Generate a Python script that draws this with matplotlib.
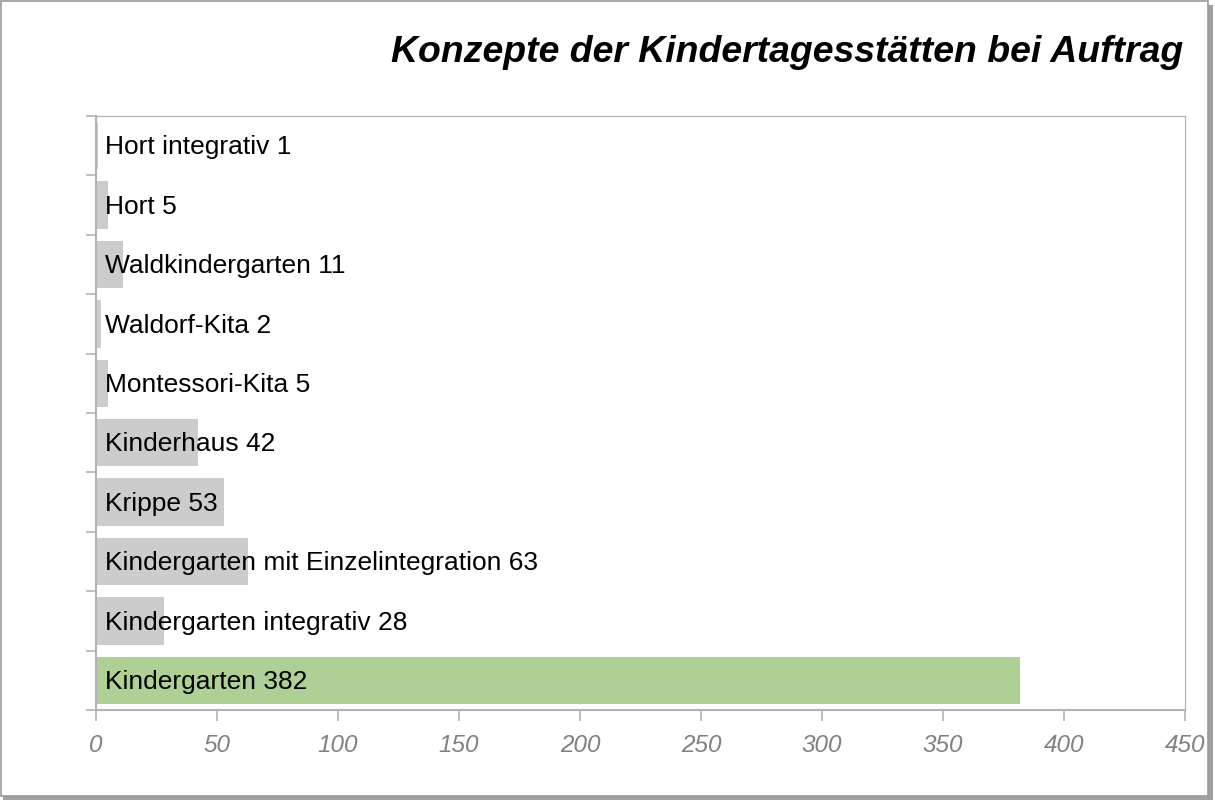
import matplotlib
matplotlib.use("Agg")
import matplotlib.pyplot as plt
from matplotlib.patches import Rectangle

# ---------------------------------------------------------------------------
# Data (bottom to top)
# ---------------------------------------------------------------------------
categories = [
    "Kindergarten",
    "Kindergarten integrativ",
    "Kindergarten mit Einzelintegration",
    "Krippe",
    "Kinderhaus",
    "Montessori-Kita",
    "Waldorf-Kita",
    "Waldkindergarten",
    "Hort",
    "Hort integrativ",
]
values = [382, 28, 63, 53, 42, 5, 2, 11, 5, 1]
highlight = "Kindergarten"
x_ticks = [0, 50, 100, 150, 200, 250, 300, 350, 400, 450]
title = "Konzepte der Kindertagesstätten bei Auftrag"

GRAY_BAR = "#cccccc"
GREEN_BAR = "#afd095"
AXIS_GRAY = "#b3b3b3"
TICK_TEXT = "#808080"

plt.rcParams["font.family"] = ["Liberation Sans", "DejaVu Sans"]

fig = plt.figure(figsize=(12.15, 8.0), dpi=100)
ax = fig.add_axes([0.079, 0.1125, 0.8963, 0.7425])

# ---- outer frame with shadow ----------------------------------------------
fig.patches.append(Rectangle((3 / 1215, 0), 1210 / 1215, 795 / 800,
                             transform=fig.transFigure, facecolor="#a0a0a0",
                             edgecolor="none", zorder=-2))
fig.patches.append(Rectangle((0.5 / 1215, 4 / 800), 1207 / 1215, 795 / 800,
                             transform=fig.transFigure, facecolor="white",
                             edgecolor="#9a9a9a", linewidth=1.2, zorder=-1))

# ---- bars -------------------------------------------------------------------
colors = [GREEN_BAR if c == highlight else GRAY_BAR for c in categories]
ypos = list(range(len(categories)))
ax.barh(ypos, values, height=0.8, color=colors, zorder=2)

for y, cat, v in zip(ypos, categories, values):
    ax.annotate(f"{cat} {v}", xy=(0, y), xytext=(6.5, -1.2),
                textcoords="offset points", va="center", ha="left",
                fontsize=19, color="black", zorder=3)

# ---- axes -------------------------------------------------------------------
ax.set_xlim(0, 450)
ax.set_ylim(-0.5, len(categories) - 0.5)
ax.set_xticks(x_ticks)
ax.set_xticklabels([str(t) for t in x_ticks], fontsize=17.5,
                   style="italic", color=TICK_TEXT)
ax.set_yticks([i - 0.5 for i in range(len(categories) + 1)])
ax.set_yticklabels([])

ax.tick_params(axis="x", direction="out", length=8, width=1.2,
               color=AXIS_GRAY, pad=9)
ax.tick_params(axis="y", direction="out", length=7, width=1.2,
               color=AXIS_GRAY)

for side in ["left", "bottom"]:
    ax.spines[side].set_color(AXIS_GRAY)
    ax.spines[side].set_linewidth(1.5)
for side in ["top", "right"]:
    ax.spines[side].set_color(AXIS_GRAY)
    ax.spines[side].set_linewidth(0.9)

# ---- title ------------------------------------------------------------------
fig.text(1183 / 1215, 1 - 52 / 800, title, ha="right", va="center",
         fontsize=26.9, fontweight="bold", style="italic", color="black")

fig.savefig("out.png", dpi=100)
plt.close(fig)
